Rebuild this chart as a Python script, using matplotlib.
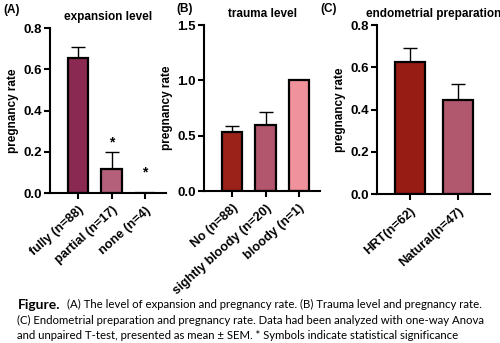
import matplotlib.pyplot as plt
import numpy as np

plt.rcParams['font.family'] = ['Liberation Sans', 'DejaVu Sans']
plt.rcParams['font.weight'] = 'bold'

# panel A
exp_labels = ['fully (n=88)', 'partial (n=17)', 'none (n=4)']
exp_rate = [0.655, 0.115, 0.0]
exp_sem = [0.055, 0.085, 0.0]
exp_colors = ['#8a2a52', '#b5607a', '#c07a90']
exp_stars = [None, 0.245, 0.10]

# panel B
trauma_labels = ['No (n=88)', 'sightly bloody (n=20)', 'bloody (n=1)']
trauma_rate = [0.53, 0.60, 1.0]
trauma_sem = [0.06, 0.115, 0.0]
trauma_colors = ['#9b2218', '#b2566e', '#ef929c']

# panel C
prep_labels = ['HRT(n=62)', 'Natural(n=47)']
prep_rate = [0.625, 0.445]
prep_sem = [0.065, 0.075]
prep_colors = ['#971c13', '#b1586f']

caption_bold = 'Figure.'
caption_lines = ['(A) The level of expansion and pregnancy rate. (B) Trauma level and pregnancy rate.',
                 '(C) Endometrial preparation and pregnancy rate. Data had been analyzed with one-way Anova',
                 'and unpaired T-test, presented as mean \u00b1 SEM. * Symbols indicate statistical significance']

fig = plt.figure(figsize=(5, 3.43), dpi=100)


def bar_panel(rect, labels, rate, sem, colors, title, ylim, yticks, xlim, width):
    ax = fig.add_axes(rect)
    x = np.arange(len(labels))
    ax.bar(x, rate, width=width, color=colors, edgecolor='black', linewidth=1.6, zorder=2)
    for xi, r, s in zip(x, rate, sem):
        if s > 0:
            ax.errorbar(xi, r, yerr=[[0], [s]], color='black', lw=1.0,
                        capsize=5, capthick=1.0, zorder=1)
    ax.set_xlim(*xlim)
    ax.set_ylim(*ylim)
    ax.set_yticks(yticks)
    ax.set_yticklabels(['%.1f' % t for t in yticks], fontsize=9.5, fontweight='bold')
    ax.set_xticks(x)
    ax.set_xticklabels(labels, rotation=42, ha='right', rotation_mode='anchor',
                       fontsize=9.2, fontweight='bold')
    ax.set_ylabel('pregnancy rate', fontsize=8.5, fontweight='bold', labelpad=3)
    ax.set_title(title, fontsize=8.5, fontweight='bold', pad=6)
    for s in ['top', 'right']:
        ax.spines[s].set_visible(False)
    for s in ['left', 'bottom']:
        ax.spines[s].set_linewidth(1.5)
    ax.tick_params(width=1.5, length=4, pad=2)
    ax.tick_params(axis='x', pad=4)
    return ax


axA = bar_panel([0.10, 0.437, 0.232, 0.481], exp_labels, exp_rate, exp_sem, exp_colors,
                'expansion level', (0, 0.8), [0.0, 0.2, 0.4, 0.6, 0.8], (-0.84, 2.63), 0.6)
for i, y in enumerate(exp_stars):
    if y is not None:
        axA.text(i, y, '*', ha='center', va='center', fontsize=10, fontweight='bold')

bar_panel([0.408, 0.443, 0.232, 0.484], trauma_labels, trauma_rate, trauma_sem, trauma_colors,
          'trauma level', (0, 1.5), [0.0, 0.5, 1.0, 1.5], (-0.84, 2.63), 0.62)

bar_panel([0.754, 0.434, 0.226, 0.493], prep_labels, prep_rate, prep_sem, prep_colors,
          'endometrial preparation', (0, 0.8), [0.0, 0.2, 0.4, 0.6, 0.8], (-0.69, 1.67), 0.62)

fig.text(0.006, 0.97, '(A)', fontsize=8.5, fontweight='bold', va='center')
fig.text(0.352, 0.975, '(B)', fontsize=8.5, fontweight='bold', va='center')
fig.text(0.640, 0.975, '(C)', fontsize=8.5, fontweight='bold', va='center')

cap_font = ['Lato', 'DejaVu Sans']
fig.text(0.036, 0.111, caption_bold, fontsize=10, fontweight='bold', family=cap_font, va='center')
fig.text(0.134, 0.111, caption_lines[0], fontsize=8.2, fontweight='normal', family=cap_font, va='center')
fig.text(0.034, 0.067, caption_lines[1], fontsize=8.2, fontweight='normal', family=cap_font, va='center')
fig.text(0.034, 0.023, caption_lines[2], fontsize=8.2, fontweight='normal', family=cap_font, va='center')

fig.savefig('out.png', dpi=100)
